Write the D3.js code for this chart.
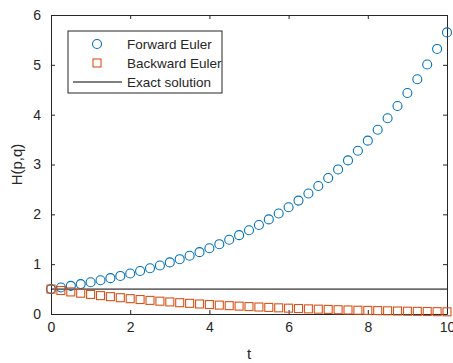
<!DOCTYPE html>
<html>
<head>
<meta charset="utf-8">
<script src="https://cdn.jsdelivr.net/npm/d3@7"></script>
<style>
  body { margin: 0; background: #fff; }
  text { font-family: "Liberation Sans", Arial, sans-serif; fill: #262626; }
</style>
</head>
<body>
<div id="graph1"></div>
<script>
// time steps, h = 0.25
var tValues = [0, 0.25, 0.5, 0.75, 1, 1.25, 1.5, 1.75, 2, 2.25, 2.5, 2.75, 3, 3.25, 3.5, 3.75,
  4, 4.25, 4.5, 4.75, 5, 5.25, 5.5, 5.75, 6, 6.25, 6.5, 6.75, 7, 7.25, 7.5, 7.75,
  8, 8.25, 8.5, 8.75, 9, 9.25, 9.5, 9.75, 10];
var forwardEuler = [0.5, 0.531, 0.564, 0.600, 0.637, 0.677, 0.719, 0.764, 0.812, 0.863, 0.917,
  0.974, 1.035, 1.100, 1.168, 1.241, 1.319, 1.401, 1.489, 1.582, 1.681, 1.786, 1.898, 2.016,
  2.142, 2.276, 2.418, 2.569, 2.730, 2.901, 3.082, 3.275, 3.479, 3.697, 3.928, 4.173, 4.434,
  4.711, 5.006, 5.319, 5.651];
var backwardEuler = [0.5, 0.471, 0.443, 0.417, 0.392, 0.369, 0.348, 0.327, 0.308, 0.290, 0.273,
  0.257, 0.242, 0.227, 0.214, 0.201, 0.190, 0.178, 0.168, 0.158, 0.149, 0.140, 0.132, 0.124,
  0.117, 0.110, 0.103, 0.097, 0.092, 0.086, 0.081, 0.076, 0.072, 0.068, 0.064, 0.060, 0.056,
  0.053, 0.050, 0.047, 0.044];
var exactT = [0, 10];
var exactH = [0.5, 0.5];
var xTicks = [0, 2, 4, 6, 8, 10];
var yTicks = [0, 1, 2, 3, 4, 5, 6];
var legendNames = ["Forward Euler", "Backward Euler", "Exact solution"];

var margin = {top: 15, right: 6, bottom: 49, left: 51},
    width = 453 - margin.left - margin.right,
    height = 363 - margin.top - margin.bottom;

var blue = "#0072BD", orange = "#D95319", axisCol = "#262626";

var svg = d3.select("#graph1")
  .append("svg")
    .attr("width", 453)
    .attr("height", 363)
  .append("g")
    .attr("transform", "translate(" + margin.left + "," + margin.top + ")");

var x = d3.scaleLinear().domain([0, 10]).range([0, width]);
var y = d3.scaleLinear().domain([0, 6]).range([height, 0]);

// axes with inward ticks, box style
function styleAxis(g) {
  g.selectAll("path").attr("stroke", axisCol);
  g.selectAll("line").attr("stroke", axisCol);
  g.selectAll("text").attr("font-size", 14).style("fill", axisCol);
}

svg.append("g")
  .attr("transform", "translate(0," + height + ")")
  .call(d3.axisBottom(x).tickValues(xTicks).tickFormat(d3.format("d")).tickSizeInner(-4).tickSizeOuter(0).tickPadding(8))
  .call(styleAxis);
svg.append("g")
  .call(d3.axisLeft(y).tickValues(yTicks).tickFormat(d3.format("d")).tickSizeInner(-4).tickSizeOuter(0).tickPadding(10))
  .call(styleAxis);
svg.append("g")
  .call(d3.axisTop(x).tickValues(xTicks).tickSizeInner(-4).tickSizeOuter(0).tickFormat(""))
  .call(styleAxis);
svg.append("g")
  .attr("transform", "translate(" + width + ",0)")
  .call(d3.axisRight(y).tickValues(yTicks).tickSizeInner(-4).tickSizeOuter(0).tickFormat(""))
  .call(styleAxis);
svg.selectAll(".domain").attr("stroke-width", 1);

// exact solution
var line = d3.line().x(function(d) { return x(d[0]); }).y(function(d) { return y(d[1]); });
svg.append("path")
  .datum(d3.zip(exactT, exactH))
  .attr("d", line)
  .attr("fill", "none")
  .attr("stroke", "#000")
  .attr("stroke-width", 1);

// forward euler
svg.append("g")
  .selectAll("circle")
  .data(d3.zip(tValues, forwardEuler))
  .enter().append("circle")
    .attr("cx", function(d) { return x(d[0]); })
    .attr("cy", function(d) { return y(d[1]); })
    .attr("r", 4.5)
    .attr("fill", "none")
    .attr("stroke", blue)
    .attr("stroke-width", 1.1);

// backward euler
svg.append("g")
  .selectAll("rect")
  .data(d3.zip(tValues, backwardEuler))
  .enter().append("rect")
    .attr("x", function(d) { return x(d[0]) - 4; })
    .attr("y", function(d) { return y(d[1]) - 4; })
    .attr("width", 8)
    .attr("height", 8)
    .attr("fill", "none")
    .attr("stroke", orange)
    .attr("stroke-width", 1.1);

// legend
var legend = svg.append("g").attr("transform", "translate(17,16)");
legend.append("rect")
  .attr("width", 154).attr("height", 62)
  .attr("fill", "#fff").attr("stroke", axisCol).attr("stroke-width", 1);
legendNames.forEach(function(name, i) {
  var cy = 13 + i * 19;
  if (i == 0) {
    legend.append("circle").attr("cx", 29).attr("cy", cy).attr("r", 4.5)
      .attr("fill", "none").attr("stroke", blue).attr("stroke-width", 1.1);
  } else if (i == 1) {
    legend.append("rect").attr("x", 25).attr("y", cy - 4).attr("width", 8).attr("height", 8)
      .attr("fill", "none").attr("stroke", orange).attr("stroke-width", 1.1);
  } else {
    legend.append("line").attr("x1", 5).attr("x2", 54).attr("y1", cy).attr("y2", cy)
      .attr("stroke", "#000").attr("stroke-width", 1);
  }
  legend.append("text")
    .text(name)
    .attr("x", 59)
    .attr("y", cy + 4.5)
    .attr("font-size", 13.5);
});

// labels
svg.append("text")
  .text("t")
  .attr("text-anchor", "middle")
  .attr("x", width / 2)
  .attr("y", height + 45)
  .attr("font-size", 15);

svg.append("text")
  .text("H(p,q)")
  .attr("text-anchor", "middle")
  .attr("transform", "translate(-29," + (height / 2) + ") rotate(-90)")
  .attr("font-size", 15);
</script>
</body>
</html>
